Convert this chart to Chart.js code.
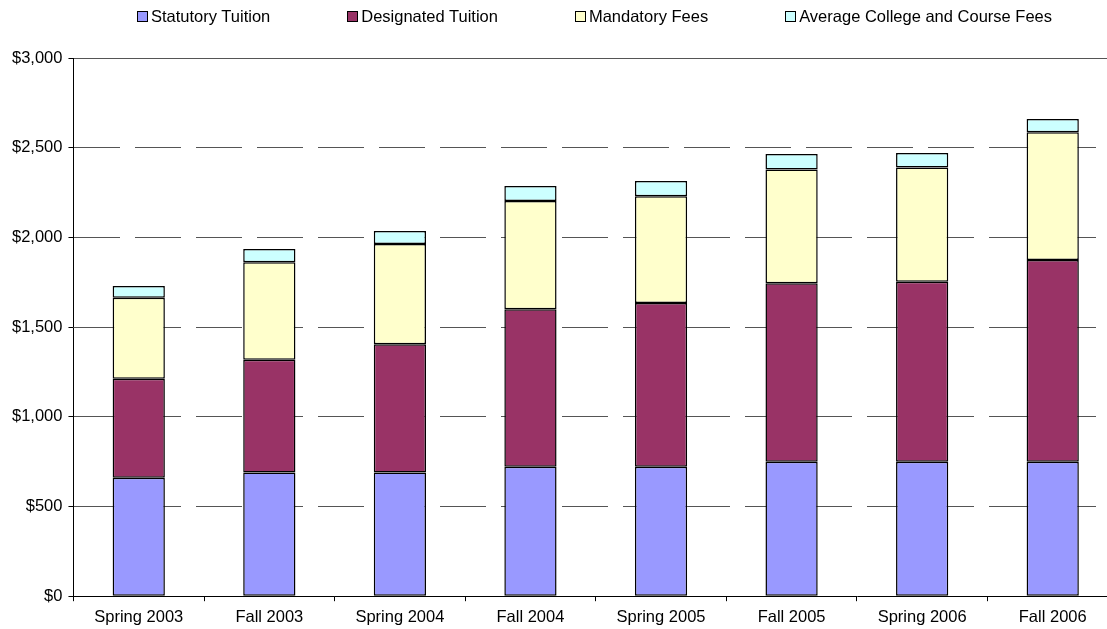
<!DOCTYPE html>
<html lang="en">

<head>
    <meta charset="UTF-8">
    <script src="https://cdn.jsdelivr.net/npm/chart.js"></script>
    <title>Tuition and Fees</title>
    <style>
        html, body { margin: 0; padding: 0; background: #fff; overflow: hidden; }
        #wrap { position: relative; width: 1120px; height: 629px; }
        #legend {
            position: absolute; left: 137px; top: 7px;
            display: flex; align-items: center;
            font-family: Arial, "Liberation Sans", sans-serif; font-size: 16.5px; color: #000;
            white-space: nowrap;
        }
        #legend .item { display: flex; align-items: center; margin-right: 77px; }
        #legend .box { width: 9px; height: 9px; border: 1px solid #000; margin-right: 3px; }
    </style>
</head>

<body>
    <div id="wrap">
        <div id="legend"></div>
        <canvas id="myChart" width="1120" height="629"></canvas>
    </div>
    <script>

        const terms = ['Spring 2003', 'Fall 2003', 'Spring 2004', 'Fall 2004',
            'Spring 2005', 'Fall 2005', 'Spring 2006', 'Fall 2006'];

        const statutory = [660, 690, 690, 721, 721, 749, 749, 749];
        const designated = [552, 628, 715, 879, 913, 995, 1004, 1125];
        const mandatory = [451, 544, 558, 603, 596, 635, 637, 712];
        const collegeFees = [66, 73, 72, 83, 84, 86, 80, 74];

        const yTicks = [0, 500, 1000, 1500, 2000, 2500, 3000];

        const font = { family: 'Arial, "Liberation Sans", sans-serif', size: 16.5 };

        function series(label, values, color) {
            return {
                label: label,
                data: values,
                backgroundColor: color,
                borderColor: '#000',
                borderWidth: 1.5,
                borderSkipped: false,
                barPercentage: 0.4,
                categoryPercentage: 1
            };
        }

        const data = {
            labels: terms,
            datasets: [
                series('Statutory Tuition', statutory, '#9999ff'),
                series('Designated Tuition', designated, '#993366'),
                series('Mandatory Fees', mandatory, '#ffffcc'),
                series('Average College and Course Fees', collegeFees, '#ccffff')
            ]
        };

        // html legend, spaced like the original
        const htmlLegend = {
            id: 'html_legend',
            afterUpdate: (chart) => {
                const el = document.getElementById('legend');
                el.innerHTML = '';
                chart.data.datasets.forEach(ds => {
                    const item = document.createElement('div');
                    item.className = 'item';
                    const box = document.createElement('span');
                    box.className = 'box';
                    box.style.background = ds.backgroundColor;
                    const txt = document.createElement('span');
                    txt.textContent = ds.label;
                    item.appendChild(box);
                    item.appendChild(txt);
                    el.appendChild(item);
                });
            }
        };

        const config = {
            type: 'bar',
            data: data,
            options: {
                responsive: false,
                animation: false,
                layout: { padding: { left: 6, right: 2, top: 58, bottom: -4 } },
                plugins: {
                    legend: { display: false },
                    tooltip: { enabled: false }
                },
                scales: {
                    x: {
                        stacked: true,
                        grid: {
                            offset: true,
                            drawOnChartArea: false,
                            color: '#000',
                            tickLength: 5
                        },
                        border: { color: '#000', width: 1 },
                        ticks: { font: font, color: '#000', padding: 6, maxRotation: 0 }
                    },
                    y: {
                        stacked: true,
                        min: 0,
                        max: 3000,
                        afterBuildTicks: (axis) => {
                            axis.ticks = yTicks.map(v => ({ value: v }));
                        },
                        grid: {
                            color: '#555',
                            tickColor: '#000',
                            tickLength: 5
                        },
                        border: {
                            color: '#000',
                            width: 1,
                            dash: (ctx) => (ctx.tick && ctx.tick.value === 3000) ? [] : [46, 15]
                        },
                        ticks: {
                            font: font,
                            color: '#000',
                            padding: 6,
                            callback: (v) => '$' + v.toLocaleString('en-US')
                        }
                    }
                }
            },
            plugins: [htmlLegend]
        };

        const myChart = new Chart(
            document.getElementById('myChart'),
            config
        );
    </script>
</body>

</html>
